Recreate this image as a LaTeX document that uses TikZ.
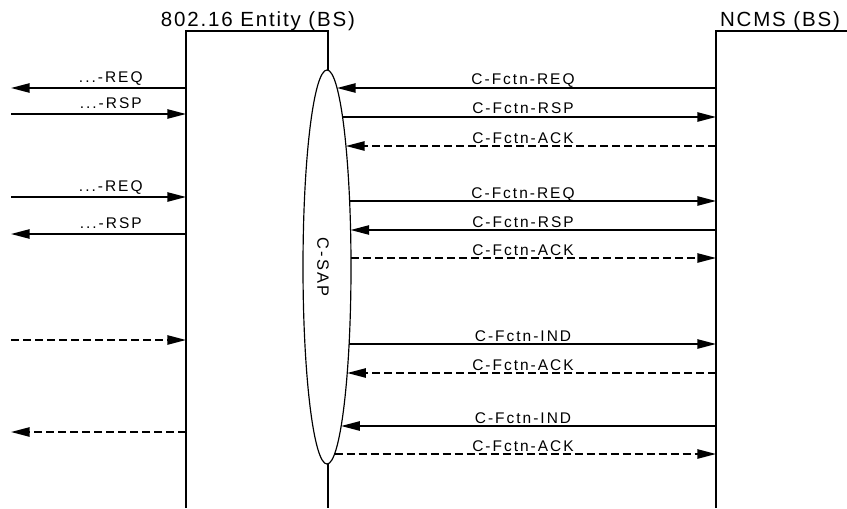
\documentclass[tikz,border=0pt]{standalone}
\usepackage{fontspec}
\setmainfont{Liberation Sans}
\newfontfamily\fuentetitulo[LetterSpace=9]{Liberation Sans}
\newfontfamily\fuenteetiq[LetterSpace=13]{Liberation Sans}
\usetikzlibrary{arrows.meta,calc,shapes.geometric}

\begin{document}
\begin{tikzpicture}[x=0.03cm, y=-0.03cm,
	linea/.style={line width=1.2pt},
	msj/.style={line width=1.3pt, -{Triangle[length=5.6mm, width=2.8mm]}},
	msjdash/.style={msj, dash pattern=on 2.4mm off 1.2mm},
	etiq/.style={anchor=base, yshift=0.9mm, inner sep=0pt, font=\fuenteetiq\fontsize{13.2}{15}\selectfont},
	etiqizq/.style={etiq, yshift=0.8mm},
	titulo/.style={anchor=base, inner sep=0pt, font=\fuentetitulo\fontsize{17.5}{20}\selectfont}]

\useasboundingbox (0,0) rectangle (847,508);	%%%%	Margenes de la imagen

%%%%%%%%%%%%%%%%%%%%%%%%%%%%%%%%%%%%%%%%%%%%%%%% 	CAJAS
\node[titulo] (entidad) at (258,27) {802.16 Entity (BS)};
\node[titulo] (ncms) at (780,27) {NCMS (BS)};

\draw[linea] (186,508) -- (186,31) -- (328,31) -- (328,70);	%%%%	Caja de la entidad
\draw[linea] (328,464) -- (328,508);							%%%%	sale por abajo del SAP
\draw[linea] (716,508) -- (716,31) -- (847,31);				%%%%	Caja del NCMS

%%%%%%%%%%%%%%%%%%%%%%%%%%%%%%%%%%%%%%%%%%%%%%%% 	C-SAP
\node[draw, ellipse, fill=white, line width=1pt, inner sep=0pt,
	minimum width=1.44cm, minimum height=11.82cm] (csap) at (327,267) {};
\node[rotate=-90, font=\fuenteetiq\fontsize{14}{16}\selectfont] (sap) at ($(csap.center)+(-4,0)$) {C-SAP};

%%%%%%%%%%%%%%%%%%%%%%%%%%%%%%%%%%%%%%%%%%%%%%%% 	PUNTOS DE LOS MENSAJES
\foreach \y [count=\i] in {88,117,146,201,230,258,344,373,426,454}{
	\pgfmathsetmacro\xs{327+24*sqrt(1-((\y-267)/197)^2)}	%%%%	borde del SAP
	\coordinate (s\i) at (\xs,\y);
	\coordinate (n\i) at (716,\y);
	\coordinate (m\i) at (523,\y);		%%%%	donde va la etiqueta
}
\foreach \y [count=\i] in {88,114,197,234,340,432}{
	\coordinate (f\i) at (186,\y);		%%%%	borde de la entidad
	\coordinate (o\i) at (11,\y);		%%%%	afuera
}

%%%%%%%%%%%%%%%%%%%%%%%%%%%%%%%%%%%%%%%%%%%%%%%% 	MENSAJES C-SAP / NCMS
\draw[msj] (n1) -- (s1);		\node[etiq] (l1) at (m1) {C-Fctn-REQ};
\draw[msj] (s2) -- (n2);		\node[etiq] (l2) at (m2) {C-Fctn-RSP};
\draw[msjdash] (n3) -- (s3);	\node[etiq] (l3) at (m3) {C-Fctn-ACK};

\draw[msj] (s4) -- (n4);		\node[etiq] (l4) at (m4) {C-Fctn-REQ};
\draw[msj] (n5) -- (s5);		\node[etiq] (l5) at (m5) {C-Fctn-RSP};
\draw[msjdash] (s6) -- (n6);	\node[etiq] (l6) at (m6) {C-Fctn-ACK};

\draw[msj] (s7) -- (n7);		\node[etiq] (l7) at (m7) {C-Fctn-IND};
\draw[msjdash] (n8) -- (s8);	\node[etiq] (l8) at (m8) {C-Fctn-ACK};

\draw[msj] (n9) -- (s9);		\node[etiq] (l9) at (m9) {C-Fctn-IND};
\draw[msjdash] (s10) -- (n10);	\node[etiq] (l10) at (m10) {C-Fctn-ACK};

%%%%%%%%%%%%%%%%%%%%%%%%%%%%%%%%%%%%%%%%%%%%%%%% 	MENSAJES DEL LADO IZQUIERDO
\draw[msj] (f1) -- (o1) node[etiqizq, pos=.43] {...-REQ};
\draw[msj] (o2) -- (f2) node[etiqizq, pos=.57] {...-RSP};
\draw[msj] (o3) -- (f3) node[etiqizq, pos=.57] {...-REQ};
\draw[msj] (f4) -- (o4) node[etiqizq, pos=.43] {...-RSP};
\draw[msjdash] (o5) -- (f5);
\draw[msjdash] (f6) -- (o6);

\end{tikzpicture}
\end{document}
